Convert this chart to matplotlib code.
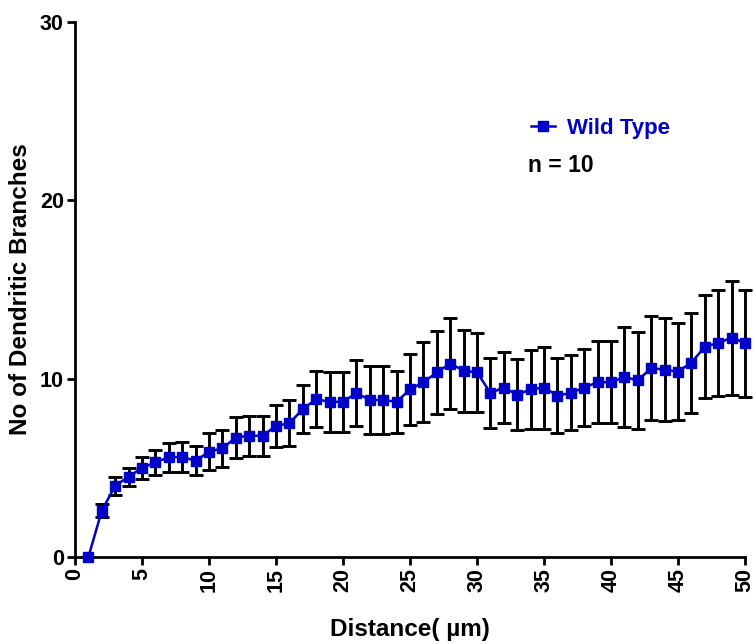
import matplotlib
matplotlib.use("Agg")
import matplotlib.pyplot as plt

# dados (distância em µm, média e erro)
distancia = list(range(1, 51))
ramos = [
    0.0, 2.6, 4.0, 4.5, 5.0, 5.3, 5.6, 5.6, 5.4, 5.9,
    6.1, 6.7, 6.8, 6.8, 7.35, 7.5, 8.3, 8.85, 8.7, 8.7,
    9.2, 8.8, 8.8, 8.7, 9.4, 9.8, 10.35, 10.85, 10.45, 10.35,
    9.2, 9.5, 9.1, 9.4, 9.5, 9.05, 9.2, 9.5, 9.8, 9.8,
    10.1, 9.9, 10.6, 10.5, 10.4, 10.9, 11.8, 12.0, 12.3, 12.0,
]
erro = [
    0.0, 0.38, 0.5, 0.5, 0.6, 0.68, 0.82, 0.84, 0.8, 1.03,
    1.03, 1.14, 1.12, 1.12, 1.2, 1.3, 1.34, 1.56, 1.7, 1.7,
    1.85, 1.9, 1.9, 1.75, 2.0, 2.25, 2.35, 2.55, 2.3, 2.2,
    1.95, 2.0, 2.0, 2.2, 2.3, 2.1, 2.1, 2.15, 2.3, 2.3,
    2.8, 2.7, 2.9, 2.9, 2.7, 2.8, 2.9, 2.96, 3.2, 3.0,
]
xticks = list(range(0, 51, 5))
yticks = [0, 10, 20, 30]

AZUL = "#0000C8"

plt.rcParams["font.family"] = ["Liberation Sans", "DejaVu Sans"]
plt.rcParams["font.weight"] = "bold"

fig = plt.figure(figsize=(7.54, 6.44), dpi=100)
ax = fig.add_axes([0.0995, 0.1351, 0.8886, 0.8307])

ax.errorbar(distancia, ramos, yerr=erro, fmt="none", ecolor="black",
            elinewidth=2.1, capsize=5, capthick=2.1, zorder=2, clip_on=False)
ax.plot(distancia, ramos, color=AZUL, marker="s", markersize=7.5, linewidth=1.8,
        label="Wild Type", zorder=3, clip_on=False)

ax.set_xlim(0, 50)
ax.set_ylim(0, 30)
ax.set_xticks(xticks)
ax.set_yticks(yticks)
ax.set_xticklabels([str(t) for t in xticks], rotation=90, fontsize=15.5, fontweight="bold")
ax.set_yticklabels([str(t) for t in yticks], fontsize=15.5, fontweight="bold")

for lado in ["top", "right"]:
    ax.spines[lado].set_visible(False)
for lado in ["left", "bottom"]:
    ax.spines[lado].set_linewidth(2.0)
ax.tick_params(width=2.0, length=6, direction="out", pad=2)

ax.set_xlabel("Distance( µm)", fontsize=17.5, fontweight="bold", labelpad=19)
ax.set_ylabel("No of Dendritic Branches", fontsize=17.5, fontweight="bold", labelpad=6)

leg = ax.legend(loc="upper left", bbox_to_anchor=(0.65, 0.858), frameon=False,
                handlelength=1.1, handletextpad=0.55, fontsize=16)
for texto in leg.get_texts():
    texto.set_color(AZUL)
    texto.set_fontweight("bold")

ax.text(0.676, 0.731, "n = 10", transform=ax.transAxes, fontsize=16.5,
        fontweight="bold", va="center", ha="left")

fig.savefig("out.png", dpi=100)
